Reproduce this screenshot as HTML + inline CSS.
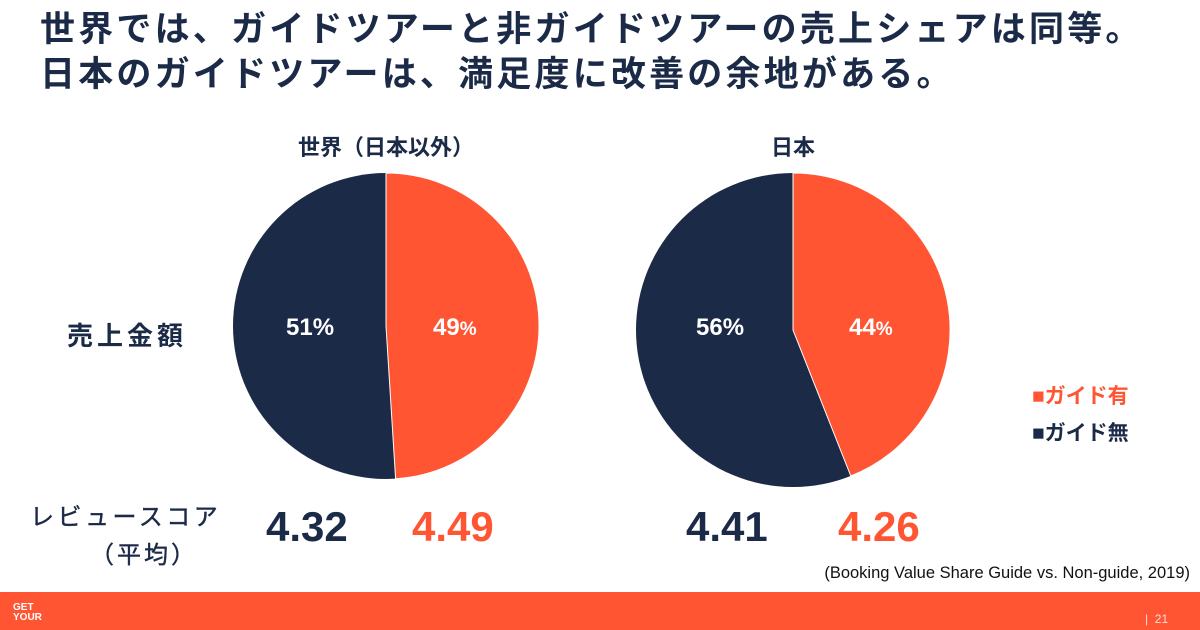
<!DOCTYPE html>
<html><head><meta charset="utf-8"><style>
body{margin:0;width:1200px;height:630px;overflow:hidden;background:#fff;font-family:"Liberation Sans","Noto Sans CJK JP",sans-serif;position:relative}
.t{position:absolute;white-space:nowrap;font-weight:bold}
</style></head><body>
<div class="t" style="left:40px;top:7px;font-size:35px;letter-spacing:3.2px;color:#1b2a47;line-height:45px">世界では、ガイドツアーと非ガイドツアーの売上シェアは同等。<br>日本のガイドツアーは、満足度に改善の余地がある。</div>
<div class="t" style="left:286px;top:130px;width:200px;text-align:center;font-size:22px;color:#1b2a47">世界（日本以外）</div>
<div class="t" style="left:693px;top:130px;width:200px;text-align:center;font-size:22px;color:#1b2a47">日本</div>
<svg style="position:absolute;left:0;top:0" width="1200" height="630">
<circle cx="386" cy="326" r="153" fill="#1b2a47"/>
<path d="M386 326 L386 173 A153 153 0 0 1 395.6 478.7 Z" fill="#ff5533" stroke="#fff" stroke-width="1"/>
<circle cx="793" cy="330" r="157" fill="#1b2a47"/>
<path d="M793 330 L793 173 A157 157 0 0 1 850.8 476 Z" fill="#ff5533" stroke="#fff" stroke-width="1"/>
<rect x="0" y="592" width="1200" height="38" fill="#ff5533"/>
</svg>
<div class="t" style="left:67px;top:316px;font-size:26px;letter-spacing:4px;color:#1b2a47">売上金額</div>
<div class="t" style="left:286px;top:314px;font-size:24px;color:#fff">51%</div>
<div class="t" style="left:433px;top:314px;font-size:24px;color:#fff">49<span style="font-size:19px">%</span></div>
<div class="t" style="left:696px;top:314px;font-size:24px;color:#fff">56%</div>
<div class="t" style="left:849px;top:314px;font-size:24px;color:#fff">44<span style="font-size:19px">%</span></div>
<div class="t" style="left:1032px;top:380px;font-size:21px;color:#ff5533">■ガイド有</div>
<div class="t" style="left:1032px;top:417px;font-size:21px;color:#1b2a47">■ガイド無</div>
<div class="t" style="left:30px;top:499px;font-size:24px;letter-spacing:3.5px;color:#1b2a47;line-height:38px;font-weight:normal;-webkit-text-stroke:0.4px #1b2a47">レビュースコア</div>
<div class="t" style="left:90px;top:537px;font-size:24px;letter-spacing:3px;color:#1b2a47;line-height:38px;font-weight:normal;-webkit-text-stroke:0.4px #1b2a47">（平均）</div>
<div class="t" style="left:266px;top:503px;font-size:42px;color:#1b2a47">4.32</div>
<div class="t" style="left:412px;top:503px;font-size:42px;color:#ff5533">4.49</div>
<div class="t" style="left:686px;top:503px;font-size:42px;color:#1b2a47">4.41</div>
<div class="t" style="left:838px;top:503px;font-size:42px;color:#ff5533">4.26</div>
<div class="t" style="right:10px;top:564px;font-size:16.5px;font-weight:normal;color:#111">(Booking Value Share Guide vs. Non-guide, 2019)</div>
<div class="t" style="left:13px;top:603px;font-size:10px;color:#fff;line-height:10px">GET<br>YOUR</div>
<div class="t" style="left:1145px;top:612px;font-size:12px;font-weight:normal;color:#fdd">|&nbsp;&nbsp;21</div>
</body></html>
